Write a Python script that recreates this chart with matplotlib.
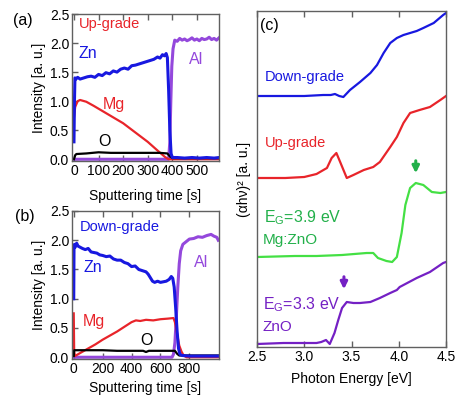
import matplotlib
matplotlib.use("Agg")
import matplotlib.pyplot as plt

plt.rcParams['font.family'] = ['Liberation Sans', 'DejaVu Sans']
plt.rcParams['mathtext.fontset'] = 'custom'
plt.rcParams['mathtext.rm'] = 'Liberation Sans'
plt.rcParams['mathtext.it'] = 'Liberation Sans:italic'

# ---------------- data: panel (a) up-grade depth profile ----------------
zn_a_t = [0, 2, 4, 8, 15, 25, 40, 55, 70, 85, 100, 115, 130, 145, 160, 175, 190, 205, 220, 235,
          250, 265, 280, 295, 310, 325, 340, 350, 360, 368, 375, 380, 385, 390, 395, 400, 420,
          450, 480, 510, 540, 570, 590]
zn_a = [0.30, 1.00, 1.40, 1.38, 1.41, 1.38, 1.40, 1.42, 1.43, 1.41, 1.46, 1.44, 1.49, 1.47, 1.52,
        1.50, 1.55, 1.57, 1.55, 1.61, 1.62, 1.64, 1.66, 1.68, 1.70, 1.72, 1.76, 1.74, 1.80, 1.78,
        1.82, 1.75, 1.20, 0.50, 0.10, 0.03, 0.03, 0.02, 0.03, 0.02, 0.03, 0.02, 0.03]
al_a_t = [0, 385, 390, 394, 398, 403, 410, 420, 430, 440, 450, 460, 470, 480, 490, 500, 510, 520,
          530, 540, 550, 560, 570, 580, 590]
al_a = [0.0, 0.0, 0.3, 1.0, 1.6, 1.9, 2.05, 2.03, 2.08, 2.05, 2.07, 2.04, 2.06, 2.09, 2.05, 2.07,
        2.04, 2.08, 2.06, 2.07, 2.10, 2.06, 2.08, 2.05, 2.09]
mg_a_t = [0, 5, 15, 25, 50, 80, 120, 160, 200, 250, 300, 340, 370, 385, 590]
mg_a = [0.72, 0.90, 1.00, 1.02, 0.99, 0.92, 0.82, 0.72, 0.62, 0.46, 0.30, 0.15, 0.04, 0.0, 0.0]
o_a_t = [0, 5, 10, 50, 100, 150, 200, 250, 300, 350, 380, 390, 400, 590]
o_a = [0.0, 0.07, 0.09, 0.10, 0.12, 0.11, 0.11, 0.11, 0.11, 0.11, 0.10, 0.05, 0.02, 0.02]

# ---------------- data: panel (b) down-grade depth profile ----------------
zn_b_t = [0, 2, 5, 10, 20, 30, 45, 60, 80, 100, 120, 140, 160, 180, 200, 225, 250, 275, 300, 325,
          350, 375, 400, 425, 450, 475, 500, 515, 530, 545, 560, 580, 600, 620, 640, 660, 675,
          685, 695, 705, 715, 725, 735, 750, 800, 850, 900, 950, 1000]
zn_b = [1.00, 1.90, 1.93, 1.88, 1.95, 1.90, 1.88, 1.86, 1.84, 1.86, 1.80, 1.79, 1.78, 1.75, 1.74,
        1.72, 1.73, 1.68, 1.66, 1.66, 1.62, 1.60, 1.55, 1.56, 1.50, 1.48, 1.46, 1.42, 1.36, 1.30,
        1.28, 1.30, 1.28, 1.29, 1.30, 1.33, 1.38, 1.35, 1.20, 0.85, 0.45, 0.15, 0.05, 0.03, 0.02,
        0.02, 0.02, 0.02, 0.02]
al_b_t = [0, 680, 690, 700, 710, 720, 730, 740, 755, 780, 800, 830, 860, 890, 920, 950, 970, 990, 1000]
al_b = [0.0, 0.0, 0.05, 0.25, 0.70, 1.20, 1.60, 1.82, 1.93, 1.98, 2.02, 2.03, 2.06, 2.05, 2.08,
        2.10, 2.07, 2.05, 2.00]
mg_b_t = [0, 3, 8, 50, 100, 150, 200, 250, 300, 350, 400, 430, 460, 500, 550, 600, 650, 690,
          700, 715, 730, 745, 760, 780, 1000]
mg_b = [0.75, 0.10, 0.02, 0.08, 0.15, 0.22, 0.30, 0.37, 0.44, 0.52, 0.60, 0.63, 0.62, 0.64, 0.63,
        0.65, 0.66, 0.67, 0.60, 0.40, 0.20, 0.10, 0.03, 0.0, 0.0]
o_b_t = [0, 3, 100, 200, 300, 400, 480, 500, 520, 600, 700, 715, 730, 760, 1000]
o_b = [0.02, 0.12, 0.12, 0.12, 0.11, 0.11, 0.11, 0.09, 0.11, 0.11, 0.11, 0.06, 0.03, 0.03, 0.03]

# ---------------- data: panel (c) (alpha h nu)^2 spectra (offset, a.u.) ----------------
e_down = [2.5, 2.8, 3.0, 3.2, 3.28, 3.325, 3.37, 3.414, 3.484, 3.59, 3.70, 3.77, 3.84, 3.91, 3.98,
          4.05, 4.12, 4.19, 4.26, 4.37, 4.47, 4.5]
y_down = [251, 251, 251, 252, 252, 253, 251, 250, 257, 265, 274, 282, 294, 304, 309, 312, 314,
          316, 319, 324, 332, 334]
e_up = [2.5, 2.8, 3.0, 3.13, 3.24, 3.29, 3.34, 3.38, 3.45, 3.52, 3.63, 3.73, 3.80, 3.91, 3.98,
        4.05, 4.12, 4.22, 4.33, 4.44, 4.5]
y_up = [169, 169, 170, 173, 179, 189, 194, 185, 169, 172, 177, 180, 185, 200, 210, 224, 234,
        237, 240, 247, 251]
e_mg = [2.5, 2.9, 3.13, 3.4, 3.66, 3.73, 3.78, 3.87, 3.93, 3.98, 4.03, 4.07, 4.12, 4.18, 4.26,
        4.35, 4.44, 4.5]
y_mg = [90, 91, 91, 92, 94, 94, 89, 86, 85, 90, 114, 142, 159, 164, 162, 155, 154, 155]
e_zno = [2.5, 2.78, 3.0, 3.13, 3.18, 3.23, 3.27, 3.32, 3.36, 3.40, 3.45, 3.52, 3.59, 3.70, 3.80,
         3.91, 3.98, 4.01, 4.19, 4.33, 4.47, 4.5]
y_zno = [3, 4, 4, 4, 5, 7, 3, 14, 27, 39, 45, 44, 44, 45, 49, 54, 57, 60, 69, 75, 84, 85]
arrow_mg = (4.18, 189, 171)
arrow_zno = (3.42, 73, 55)

C_BLUE = '#1818e0'
C_RED = '#e8242a'
C_AL = '#9448dc'
C_ZNO = '#7420c4'
C_GREEN_L = '#44e044'
C_GREEN_T = '#22b04a'
C_SPINE = '#606060'

fig = plt.figure(figsize=(4.59, 3.97), dpi=100)
W, H = 459.0, 397.0

def axes_px(l, t, r, b):
    return fig.add_axes([l / W, 1 - b / H, (r - l) / W, (b - t) / H])

def style(ax):
    for s in ax.spines.values():
        s.set_color(C_SPINE)
        s.set_linewidth(1.0)
    ax.tick_params(direction='in', top=True, right=False, color=C_SPINE,
                   labelsize=10, length=4, width=1.0, pad=2)

lw = 1.6
# panel (a)
ax1 = axes_px(72, 14, 219, 161)
ax1.plot(al_a_t, al_a, color=C_AL, lw=2.2)
ax1.plot(mg_a_t, mg_a, color=C_RED, lw=lw)
ax1.plot(o_a_t, o_a, color='black', lw=lw)
ax1.plot(zn_a_t, zn_a, color=C_BLUE, lw=2.2)
ax1.set_xlim(-8, 590)
ax1.set_ylim(-0.03, 2.5)
ax1.set_xticks([0, 100, 200, 300, 400, 500])
ax1.set_yticks([0.0, 0.5, 1.0, 1.5, 2.0, 2.5])
ax1.set_yticklabels(['0.0', '0.5', '1.0', '1.5', '2.0', '2.5'])
style(ax1)
ax1.set_xlabel('Sputtering time [s]', fontsize=10, labelpad=8)
ax1.set_ylabel('Intensity [a. u.]', fontsize=10, labelpad=3)
ax1.text(20, 2.32, 'Up-grade', color=C_RED, fontsize=10.5, va='center')
ax1.text(20, 1.82, 'Zn', color=C_BLUE, fontsize=11.5, va='center')
ax1.text(468, 1.72, 'Al', color=C_AL, fontsize=11.5, va='center')
ax1.text(118, 0.95, 'Mg', color=C_RED, fontsize=11.5, va='center')
ax1.text(125, 0.30, 'O', color='black', fontsize=11.5, va='center', ha='center')
fig.text(13 / W, 1 - 20 / H, '(a)', fontsize=11.5, va='center')

# panel (b)
ax2 = axes_px(72, 211, 219, 359)
ax2.plot(al_b_t, al_b, color=C_AL, lw=2.2)
ax2.plot(mg_b_t, mg_b, color=C_RED, lw=lw)
ax2.plot(o_b_t, o_b, color='black', lw=lw)
ax2.plot(zn_b_t, zn_b, color=C_BLUE, lw=2.2)
ax2.set_xlim(-12, 1005)
ax2.set_ylim(-0.03, 2.5)
ax2.set_xticks([0, 200, 400, 600, 800])
ax2.set_yticks([0.0, 0.5, 1.0, 1.5, 2.0, 2.5])
ax2.set_yticklabels(['0.0', '0.5', '1.0', '1.5', '2.0', '2.5'])
style(ax2)
ax2.set_xlabel('Sputtering time [s]', fontsize=10, labelpad=4)
ax2.set_ylabel('Intensity [a. u.]', fontsize=10, labelpad=3)
ax2.text(40, 2.22, 'Down-grade', color=C_BLUE, fontsize=10.5, va='center')
ax2.text(65, 1.54, 'Zn', color=C_BLUE, fontsize=11.5, va='center')
ax2.text(830, 1.62, 'Al', color=C_AL, fontsize=11.5, va='center')
ax2.text(60, 0.61, 'Mg', color=C_RED, fontsize=11.5, va='center')
ax2.text(500, 0.29, 'O', color='black', fontsize=11.5, va='center', ha='center')
fig.text(15 / W, 1 - 217 / H, '(b)', fontsize=11.5, va='center')

# panel (c)
ax3 = axes_px(257, 11, 446, 347)
ax3.plot(e_down, y_down, color=C_BLUE, lw=lw)
ax3.plot(e_up, y_up, color=C_RED, lw=lw)
ax3.plot(e_mg, y_mg, color=C_GREEN_L, lw=lw)
ax3.plot(e_zno, y_zno, color=C_ZNO, lw=lw)
ax3.set_xlim(2.5, 4.5)
ax3.set_ylim(0, 336)
ax3.set_xticks([2.5, 3.0, 3.5, 4.0, 4.5])
ax3.set_xticklabels(['2.5', '3.0', '3.5', '4.0', '4.5'])
ax3.set_yticks([])
style(ax3)
ax3.set_xlabel('Photon Energy [eV]', fontsize=10, labelpad=6)
ax3.set_ylabel('(αhν)² [a. u.]', fontsize=10, labelpad=4)
ax3.annotate('', xy=(arrow_mg[0], arrow_mg[2]), xytext=(arrow_mg[0], arrow_mg[1]),
             arrowprops=dict(arrowstyle='-|>', color=C_GREEN_T, lw=2.2, mutation_scale=10))
ax3.annotate('', xy=(arrow_zno[0], arrow_zno[2]), xytext=(arrow_zno[0], arrow_zno[1]),
             arrowprops=dict(arrowstyle='-|>', color=C_ZNO, lw=2.2, mutation_scale=10))
ax3.text(2.53, 322, '(c)', fontsize=11.5, va='center')
ax3.text(2.585, 270, 'Down-grade', color=C_BLUE, fontsize=10.5, va='center')
ax3.text(2.585, 204, 'Up-grade', color=C_RED, fontsize=10.5, va='center')
ax3.text(2.574, 129, r'$\mathrm{E_G}$=3.9 eV', color=C_GREEN_T, fontsize=11.5, va='center')
ax3.text(2.56, 107, 'Mg:ZnO', color=C_GREEN_T, fontsize=11, va='center')
ax3.text(2.56, 42, r'$\mathrm{E_G}$=3.3 eV', color=C_ZNO, fontsize=11.5, va='center')
ax3.text(2.56, 20, 'ZnO', color=C_ZNO, fontsize=11, va='center')

fig.savefig('out.png', dpi=100)
